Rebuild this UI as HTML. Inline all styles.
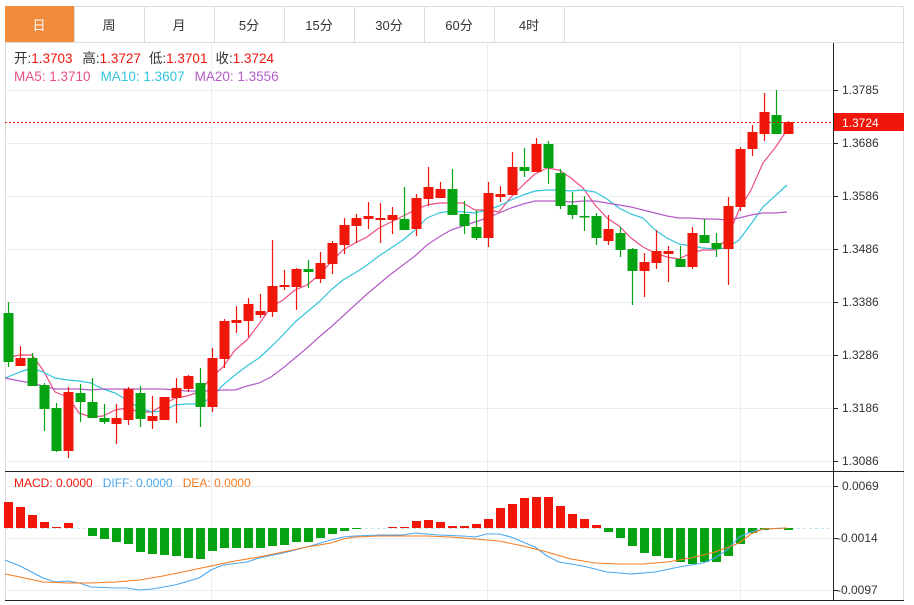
<!DOCTYPE html>
<html><head><meta charset="utf-8"><style>
html,body{margin:0;padding:0;background:#fff;}
svg{display:block;font-family:"Liberation Sans","Noto Sans CJK SC",sans-serif;}
</style></head><body>
<svg id="s" width="914" height="605" xmlns="http://www.w3.org/2000/svg">
<rect x="0" y="0" width="914" height="605" fill="#fff"/>
<rect x="5.5" y="6.5" width="898" height="594" fill="none" stroke="#dcdcdc"/>
<line x1="5" y1="42.5" x2="904" y2="42.5" stroke="#dcdcdc"/>
<rect x="5" y="6" width="69" height="36" fill="#f08c3c"/>
<g stroke="#dcdcdc"><line x1="74.5" y1="6" x2="74.5" y2="42"/><line x1="144.5" y1="6" x2="144.5" y2="42"/><line x1="214.5" y1="6" x2="214.5" y2="42"/><line x1="284.5" y1="6" x2="284.5" y2="42"/><line x1="354.5" y1="6" x2="354.5" y2="42"/><line x1="424.5" y1="6" x2="424.5" y2="42"/><line x1="494.5" y1="6" x2="494.5" y2="42"/><line x1="564.5" y1="6" x2="564.5" y2="42"/></g>
<g font-size="13" text-anchor="middle" fill="#333"><text x="39" y="30" fill="#fff">日</text><text x="109" y="30">周</text><text x="179" y="30">月</text><text x="249" y="30">5分</text><text x="319" y="30">15分</text><text x="389" y="30">30分</text><text x="459" y="30">60分</text><text x="529" y="30">4时</text></g>
<g id="grid" stroke="#e6edf3" stroke-width="1"></g>
<line x1="833.5" y1="43" x2="833.5" y2="601" stroke="#222"/>
<line x1="5" y1="471.5" x2="904" y2="471.5" stroke="#222"/>
<line x1="5" y1="600.5" x2="904" y2="600.5" stroke="#222"/>
<g id="ax" font-size="12" fill="#333"></g>
<g id="ma"></g><g id="cd"></g><g id="mc"></g>
<line x1="5" y1="122.5" x2="833" y2="122.5" stroke="#f0160a" stroke-dasharray="2,2"/>
<rect x="834" y="113" width="70" height="18" fill="#f0160a"/>
<text x="842" y="127" font-size="12" fill="#fff">1.3724</text>
<g font-size="13.5">
<text x="14" y="63" fill="#333">开:<tspan fill="#f0160a">1.3703</tspan>  <tspan dx="6">高:</tspan><tspan fill="#f0160a">1.3727</tspan><tspan dx="8">低:</tspan><tspan fill="#f0160a">1.3701</tspan><tspan dx="8">收:</tspan><tspan fill="#f0160a">1.3724</tspan></text>
<text x="14" y="81" fill="#ec4e82">MA5: 1.3710<tspan dx="10" fill="#34c4dc">MA10: 1.3607</tspan><tspan dx="10" fill="#b65cc8">MA20: 1.3556</tspan></text>
</g>
<g font-size="12">
<text x="14" y="487" fill="#f0160a">MACD: 0.0000<tspan dx="10" fill="#4aa8f0">DIFF: 0.0000</tspan><tspan dx="10" fill="#f57c20">DEA: 0.0000</tspan></text>
</g>
</svg>
<script>
const NS="http://www.w3.org/2000/svg";
function el(p,t,a){const e=document.createElementNS(NS,t);for(const k in a)e.setAttribute(k,a[k]);document.getElementById(p).appendChild(e);return e;}
[90,143,196,249,302,355,408,461].forEach(y=>el("grid","line",{x1:5,x2:833,y1:y+.5,y2:y+.5}));
[486,538,590].forEach(y=>el("grid","line",{x1:5,x2:833,y1:y+.5,y2:y+.5}));
[211,487,740].forEach(x=>el("grid","line",{x1:x+.5,x2:x+.5,y1:43,y2:600}));
const labs=[[90,"1.3785"],[143,"1.3686"],[196,"1.3586"],[249,"1.3486"],[302,"1.3386"],[355,"1.3286"],[408,"1.3186"],[461,"1.3086"],[486,"0.0069"],[538,"-0.0014"],[590,"-0.0097"]];
labs.forEach(([y,t])=>{el("ax","line",{x1:833,x2:838,y1:y+.5,y2:y+.5,stroke:"#222"});const e=el("ax","text",{x:t[0]=="-"?837:842,y:y+4});e.textContent=t;});
const C=[["g",313,362,302,367],["r",358,366,346,366],["g",358,386,353,386],["g",385,409,383,431],["g",408,451,403,452],["r",392,451,387,458],["g",393,402,384,422],["g",402,418,378,418],["g",418,422,404,424],["r",418,424,404,444],["r",389,420,387,425],["g",393,419,386,427],["r",416,421,396,429],["r",397,420,397,420],["r",388,398,378,423],["r",376,389,375,392],["g",383,407,368,427],["r",358,407,348,412],["r",321,359,319,368],["r",320,323,306,333],["r",304,321,298,337],["r",311,315,294,318],["r",286,312,240,317],["r",285,287,270,290],["r",269,287,268,310],["g",269,272,260,288],["r",263,279,252,283],["r",243,264,241,274],["r",225,245,218,254],["r",218,226,214,243],["r",216,219,202,229],["r",218,220,203,243],["r",215,220,207,234],["g",219,230,187,230],["r",198,229,194,236],["r",187,199,167,206],["r",189,198,182,198],["g",189,215,169,215],["g",214,226,201,234],["g",227,238,210,240],["r",193,238,182,247],["r",194,197,186,202],["r",167,195,152,195],["g",167,171,148,177],["r",144,172,138,172],["g",144,168,141,184],["g",173,206,169,209],["g",205,215,192,219],["g",216,217,196,231],["g",216,238,213,245],["r",229,241,215,245],["g",233,250,227,257],["g",249,271,248,305],["r",262,271,253,297],["r",251,263,230,269],["r",251,254,246,282],["g",259,267,246,267],["r",233,267,227,269],["g",235,243,219,243],["g",243,249,233,257],["r",206,249,197,285],["r",149,207,147,211],["r",132,149,125,156],["r",112,134,93,141],["g",115,134,90,134],["r",122,134,121,134]];
C.forEach((c,i)=>{const x=8.5+12*i;const col=c[0]=="r"?"#f0160a":"#05a312";
el("cd","line",{x1:x,x2:x,y1:c[3],y2:c[4],stroke:col,"stroke-width":1.2});
el("cd","rect",{x:x-5,y:c[1],width:10,height:Math.max(1.5,c[2]-c[1]),fill:col});});
function pl(g,pts,col,w){el(g,"polyline",{points:pts.map(p=>p.join(",")).join(" "),fill:"none",stroke:col,"stroke-width":w||1.2,"stroke-linejoin":"round"});}
pl("ma",[[5,358],[20,355],[32,355],[43,370],[55,392],[68,397],[79,413],[91,417],[103,416],[115,410],[127,408],[139,412],[152,412],[163,405],[175,398],[187,396],[199,392],[211,378],[223,367],[235,350],[247,340],[259,324],[271,307],[283,300],[295,290],[307,285],[319,275],[331,262],[343,250],[355,243],[367,237],[379,228],[391,222],[403,216],[415,210],[427,205],[439,203],[451,203],[463,203],[475,210],[487,210],[499,212],[511,197],[523,185],[535,174],[547,168],[559,170],[571,178],[583,188],[595,205],[607,218],[619,226],[631,238],[643,247],[655,253],[667,257],[679,259],[691,253],[703,250],[715,250],[727,239],[739,210],[751,190],[763,163],[775,148],[787,130]],"#ec4e82");
pl("ma",[[5,378],[20,372],[32,368],[43,372],[55,378],[68,380],[79,381],[91,383],[103,389],[115,393],[127,400],[139,408],[152,412],[163,411],[175,405],[187,404],[199,404],[211,398],[223,385],[235,375],[247,366],[259,358],[271,347],[283,335],[295,322],[307,312],[319,302],[331,290],[343,280],[355,273],[367,265],[379,256],[391,248],[403,240],[415,230],[427,218],[439,213],[451,211],[463,212],[475,213],[487,210],[499,206],[511,200],[523,195],[535,191],[547,190],[559,190],[571,191],[583,190],[595,192],[607,199],[619,208],[631,214],[643,218],[655,230],[667,238],[679,244],[691,246],[703,248],[715,249],[727,248],[739,240],[751,224],[763,207],[775,196],[787,185]],"#34c4dc");
pl("ma",[[5,378],[20,381],[32,383],[43,386],[55,389],[68,389],[79,389],[91,390],[103,389],[115,389],[127,389],[139,389],[152,389],[163,389],[175,390],[187,391],[199,391],[211,391],[223,390],[235,390],[247,386],[259,383],[271,377],[283,368],[295,358],[307,348],[319,337],[331,327],[343,316],[355,305],[367,294],[379,284],[391,274],[403,265],[415,256],[427,245],[439,237],[451,230],[463,226],[475,222],[487,218],[499,213],[511,208],[523,204],[535,201],[547,201],[559,201],[571,202],[583,201],[595,201],[607,203],[619,205],[631,207],[643,210],[655,213],[667,216],[679,218],[691,218],[703,219],[715,219],[727,220],[739,218],[751,215],[763,213],[775,213],[787,212]],"#b65cc8");
el("mc","line",{x1:5,x2:833,y1:528.5,y2:528.5,stroke:"#bfe3f0","stroke-dasharray":"3,3"});
const M=[502,507,515,522,527,523,528,536,539,542,544,552,554,555,556,558,559,551,548,548,548,548,546,545,542,542,538,534,531,529,528,528,527,527,521,520,522,526,526,524,519,508,504,498,497,497,506,514,519,525,532,538,546,553,556,558,562,564,562,562,556,544,533,530,529,530,528];
M.slice(0,66).forEach((y,i)=>{const x=8.5+12*i;const up=y<528;const top=Math.min(y,528),h=Math.abs(y-528);if(h<1)return;
el("mc","rect",{x:x-4.5,y:top,width:9,height:h,fill:up?"#f0160a":"#05a312"});});
pl("mc",[[5,560],[20,566],[43,578],[55,582],[68,581],[79,583],[91,587],[115,588],[127,588],[139,590],[152,589],[175,585],[199,578],[211,570],[223,565],[247,562],[259,558],[283,553],[307,547],[331,540],[343,537],[355,536],[379,535],[403,535],[415,533],[439,535],[463,536],[475,537],[487,534],[499,534],[511,537],[535,547],[547,556],[559,562],[583,566],[607,572],[631,574],[655,572],[679,567],[703,563],[715,558],[727,550],[739,537],[751,532],[763,529],[787,528]],"#4aa8f0",1.1);
pl("mc",[[5,574],[20,577],[43,582],[68,583],[91,583],[115,582],[139,580],[163,576],[187,571],[211,566],[235,561],[259,557],[283,552],[307,547],[331,543],[343,539],[355,537],[379,536],[403,536],[427,536],[451,537],[475,539],[499,541],[523,546],[547,552],[571,559],[595,563],[619,564],[643,564],[667,562],[691,558],[715,552],[739,543],[751,534],[763,529],[787,528]],"#f57c20",1.1);
</script>
</body></html>
